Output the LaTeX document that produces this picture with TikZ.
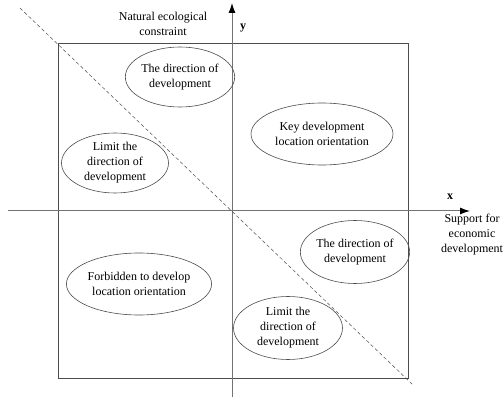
\documentclass[tikz,border=0pt]{standalone}
\usepackage{fontspec}
\setmainfont{Liberation Serif}
\usetikzlibrary{shapes.geometric,arrows.meta}
\begin{document}
\begin{tikzpicture}[x=1pt,y=-1pt,
  lbl/.style={font=\rmfamily\fontsize{12}{15}\selectfont, align=center, inner sep=0pt},
  oval/.style={draw=black!70, line width=0.6pt, ellipse, font=\rmfamily\fontsize{12}{15}\selectfont, align=center, inner sep=0pt},
  axis/.style={draw=black!55, line width=1pt, -{Latex[length=10pt,width=7pt,color=black]}}]
\useasboundingbox (0,0) rectangle (504,401);
\draw[black!70, line width=0.7pt] (58,43) rectangle (408,378);
\coordinate (xs) at (8,211);
\coordinate (xe) at (470,211);
\coordinate (ys) at (232,397);
\coordinate (ye) at (232,3);
\draw[axis] (xs) -- (xe);
\draw[axis] (ys) -- (ye);
\coordinate (ds) at (20,8);
\coordinate (de) at (413,385);
\draw[black!70, dash pattern=on 3.5pt off 2.5pt, line width=0.5pt] (ds) -- (de);
\node[lbl] (nat) at (163,24) {Natural ecological\\constraint};
\node[lbl, font=\rmfamily\fontsize{12}{15}\selectfont\bfseries] (ylab) at (243,28) {y};
\node[lbl, font=\rmfamily\fontsize{12}{15}\selectfont\bfseries] (xlab) at (450,197) {x};
\node[lbl] (sup) at (472,235) {Support for\\economic\\development};
\node[oval, minimum width=107pt, minimum height=60pt] (e1) at (180,77) {The direction of\\development};
\node[oval, minimum width=107pt, minimum height=60pt] (e2) at (115,163) {Limit the\\direction of\\development};
\node[oval, minimum width=142pt, minimum height=62pt] (e3) at (322,134) {Key development\\location orientation};
\node[oval, minimum width=129pt, minimum height=62pt] (e4) at (139,284) {Forbidden to develop\\location orientation};
\node[oval, minimum width=107pt, minimum height=63pt] (e5) at (355,252) {The direction of\\development};
\node[oval, minimum width=109pt, minimum height=63pt] (e6) at (288,328) {Limit the\\direction of\\development};
\end{tikzpicture}
\end{document}
